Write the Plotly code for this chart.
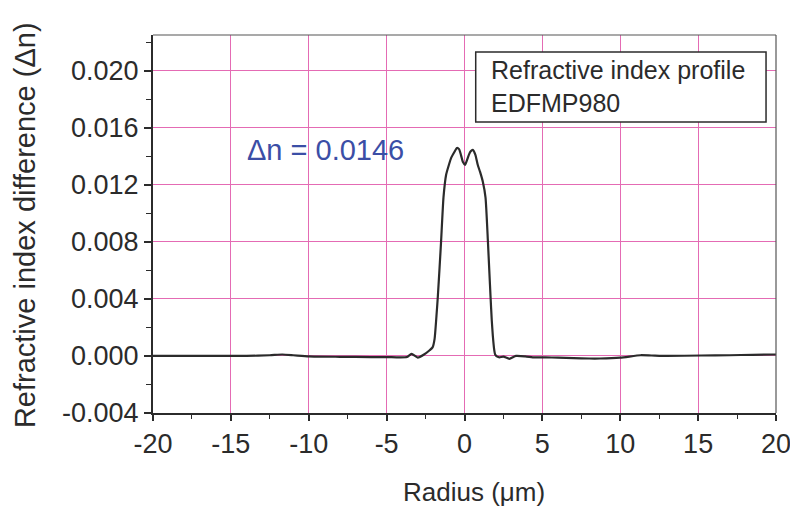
import plotly.graph_objects as go

radius_um = [-20, -18, -16, -14, -12.5, -11.7, -11, -10, -8, -6, -5, -4.2, -3.7, -3.4, -3.0,
             -2.6, -2.24, -2.05, -1.92, -1.8, -1.71, -1.6, -1.5, -1.35, -1.18, -1.0, -0.85,
             -0.65, -0.49, -0.35, -0.23, -0.1, 0.04, 0.15, 0.28, 0.4, 0.53, 0.7, 0.85, 1.0,
             1.18, 1.35, 1.5, 1.6, 1.67, 1.75, 1.82, 1.9, 1.97, 2.1, 2.24, 2.5, 2.88, 3.3,
             3.9, 4.5, 5.2, 6, 7, 8, 8.7, 10, 11.3, 12, 13, 15.2, 17, 18.5, 20]
delta_n = [0.0, 0.0, 0.0, 0.0, 0.00005, 0.0001, 0.00005, -0.00003, -0.00006, -0.00008,
           -0.00008, -0.0001, -0.00008, 0.00015, -0.00012, 0.0001, 0.0004, 0.0006, 0.0012,
           0.0028, 0.0042, 0.0062, 0.0081, 0.0111, 0.0127, 0.0134, 0.0139, 0.0143, 0.01458,
           0.0145, 0.0141, 0.0136, 0.0134, 0.0137, 0.0141, 0.01435, 0.01445, 0.0141, 0.0134,
           0.0129, 0.0122, 0.0111, 0.0081, 0.0058, 0.0042, 0.0025, 0.0014, 0.0005, 0.0001,
           -0.00005, -0.0001, -0.00005, -0.0002, 0.0, -0.00003, -0.0001, -0.0001, -0.00012,
           -0.00015, -0.00018, -0.00018, -0.00012, 0.00005, 0.00003, 0.0, 0.00003, 0.00005,
           0.00008, 0.0001]

x_ticks = [-20, -15, -10, -5, 0, 5, 10, 15, 20]
y_ticks = [-0.004, 0.000, 0.004, 0.008, 0.012, 0.016, 0.020]
y_tick_labels = ["-0.004", "0.000", "0.004", "0.008", "0.012", "0.016", "0.020"]

FONT = "Liberation Sans, Arial, sans-serif"
INK = "#2b2b2b"
GRID = "#e46bb4"

fig = go.Figure()
fig.add_trace(go.Scatter(
    x=radius_um, y=delta_n, mode="lines",
    line=dict(color=INK, width=2.2, shape="spline", smoothing=0.5),
    showlegend=False, hoverinfo="skip",
))

fig.update_xaxes(
    range=[-20, 20], tickvals=x_ticks, ticktext=[str(v) for v in x_ticks],
    showgrid=True, gridcolor=GRID, gridwidth=1, zeroline=False,
    showline=True, linecolor=INK, linewidth=2, mirror=False, automargin=False,
    ticks="outside", ticklen=6, tickwidth=1.5, tickcolor=INK,
    minor=dict(dtick=2.5, tick0=0, ticks="outside", ticklen=4, tickwidth=1.2, tickcolor=INK, showgrid=False),
    tickfont=dict(family=FONT, size=27, color=INK),
)
fig.update_yaxes(
    range=[-0.004, 0.0225], tickvals=y_ticks, ticktext=y_tick_labels,
    showgrid=True, gridcolor=GRID, gridwidth=1, zeroline=False,
    showline=True, linecolor=INK, linewidth=2, mirror=False, automargin=False,
    ticks="outside", ticklen=7, tickwidth=1.5, tickcolor=INK,
    minor=dict(dtick=0.002, tick0=0, ticks="outside", ticklen=5, tickwidth=1.2, tickcolor=INK, showgrid=False),
    tickfont=dict(family=FONT, size=27, color=INK),
)

# axis titles placed as text
fig.add_annotation(
    x=-0.2055, y=0.497, xref="paper", yref="paper", xanchor="center", yanchor="middle",
    text="Refractive index difference (\u0394n)", textangle=-90, showarrow=False,
    font=dict(family=FONT, size=29, color=INK),
)
fig.add_annotation(
    x=0.515, y=-0.209, xref="paper", yref="paper", xanchor="center", yanchor="middle",
    text="Radius (\u03bcm)", showarrow=False,
    font=dict(family=FONT, size=26, color=INK),
)

# plot frame (top & right)
fig.add_shape(type="line", xref="paper", yref="paper", x0=0, x1=1, y0=1, y1=1,
              line=dict(color="#555555", width=1.2))
fig.add_shape(type="line", xref="paper", yref="paper", x0=1, x1=1, y0=0, y1=1,
              line=dict(color="#555555", width=1.2))

# label box
fig.add_shape(type="rect", xref="paper", yref="paper", x0=0.518, x1=0.984, y0=0.770, y1=0.955,
              line=dict(color=INK, width=1.5), fillcolor="white", layer="above")
fig.add_annotation(
    x=0.540, y=0.864, xref="paper", yref="paper", xanchor="left", yanchor="middle",
    text="Refractive index profile<br>EDFMP980", align="left", showarrow=False,
    font=dict(family=FONT, size=25, color=INK),
)
fig.add_annotation(
    x=-8.9, y=0.01444, xref="x", yref="y", text="\u0394n = 0.0146", showarrow=False,
    font=dict(family=FONT, size=29, color="#3b4ea6"),
)

fig.update_layout(
    width=790, height=499,
    margin=dict(l=145, r=22, t=27, b=94),
    paper_bgcolor="white", plot_bgcolor="white",
)

fig.write_html("out.html")
